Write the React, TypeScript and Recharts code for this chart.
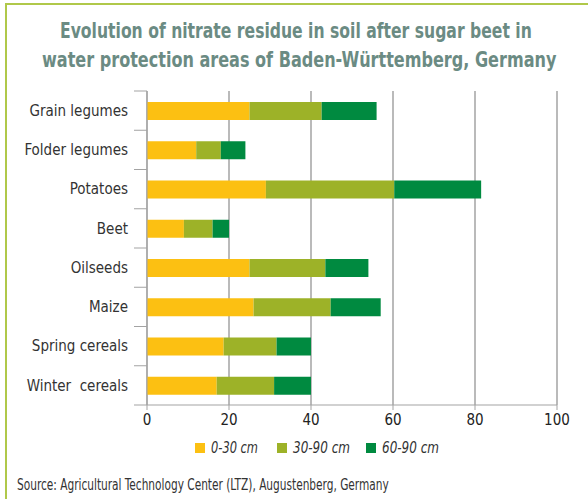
import React, { useLayoutEffect, useRef, useState } from 'react';
import { BarChart, Bar, XAxis, YAxis, CartesianGrid } from 'recharts';

const crops = [
  'Grain legumes',
  'Folder legumes',
  'Potatoes',
  'Beet',
  'Oilseeds',
  'Maize',
  'Spring cereals',
  'Winter  cereals',
];
const depth0to30 = [25, 12, 29, 9, 25, 26, 18.7, 17];
const depth30to90 = [17.6, 6, 31.3, 7, 18.5, 18.8, 12.9, 14];
const depth60to90 = [13.4, 6, 21.2, 4, 10.5, 12.2, 8.4, 9];
const xTicks = [0, 20, 40, 60, 80, 100];

const series = [
  { key: 'd1', name: '0-30 cm', color: '#fcc012' },
  { key: 'd2', name: '30-90 cm', color: '#9db228' },
  { key: 'd3', name: '60-90 cm', color: '#008a40' },
];

const data = crops.map((crop, i) => ({
  crop,
  d1: depth0to30[i],
  d2: depth30to90[i],
  d3: depth60to90[i],
}));

const FONT = "'Liberation Sans Narrow', 'DejaVu Sans Condensed', 'Roboto', sans-serif";
const GRID = '#a3a3a3';
const PLOT_TOP = 91;
const PLOT_BOTTOM = 405;
const BAND = (PLOT_BOTTOM - PLOT_TOP) / crops.length;

// squeezes a line of text horizontally to a given width (condensed font look)
function FitText({ x, y, width, children, ...rest }: any) {
  const ref = useRef<SVGTextElement>(null);
  const [sx, setSx] = useState(1);
  useLayoutEffect(() => {
    const w = ref.current ? ref.current.getComputedTextLength() : 0;
    if (w > 0) setSx(width / w);
  }, [width]);
  return (
    <text ref={ref} transform={`translate(${x},${y}) scale(${sx},1)`} fontFamily={FONT} {...rest}>
      {children}
    </text>
  );
}

const CropTick = (props: any) => {
  const { x, y, payload, index } = props;
  const axisX = x + 19;
  return (
    <g>
      <text
        x={x}
        y={y}
        dy="0.355em"
        textAnchor="end"
        fontSize={15}
        fill="#333"
        fontFamily={FONT}
        style={{ whiteSpace: 'pre' }}
      >
        {payload.value}
      </text>
      {index === 0 && (
        <line x1={axisX - 13} x2={axisX} y1={y - BAND / 2} y2={y - BAND / 2} stroke={GRID} />
      )}
      <line x1={axisX - 13} x2={axisX} y1={y + BAND / 2} y2={y + BAND / 2} stroke={GRID} />
    </g>
  );
};

export default function App() {
  return (
    <div style={{ position: 'absolute', left: 0, top: 0, width: 588, height: 499, background: '#fff', overflow: 'hidden' }}>
      <div style={{ position: 'absolute', left: 5, top: 3, width: 583, height: 2, background: '#b0c84a' }} />
      <div style={{ position: 'absolute', left: 5, top: 3, width: 2, height: 496, background: '#b0c84a' }} />
      <svg width={588} height={499} style={{ position: 'absolute', left: 0, top: 0 }}>
        <FitText x={60} y={38} width={472} fontSize={22} fontWeight="bold" fill="#6b8b83">
          Evolution of nitrate residue in soil after sugar beet in
        </FitText>
        <FitText x={42} y={67} width={515} fontSize={22} fontWeight="bold" fill="#6b8b83">
          water protection areas of Baden-Württemberg, Germany
        </FitText>
        {series.map((s, i) => {
          const lx = [195, 277, 366][i];
          return (
            <g key={s.key}>
              <rect x={lx} y={443} width={10} height={10} fill={s.color} />
              <FitText x={lx + 16} y={453} width={[47, 57, 57][i]} fontSize={16} fontStyle="italic" fill="#333">
                {s.name}
              </FitText>
            </g>
          );
        })}
        <FitText x={17} y={490} width={372} fontSize={16} fill="#333">
          Source: Agricultural Technology Center (LTZ), Augustenberg, Germany
        </FitText>
      </svg>
      <div style={{ position: 'absolute', left: 0, top: 0 }}>
        <BarChart
          width={588}
          height={430}
          data={data}
          layout="vertical"
          margin={{ top: PLOT_TOP, right: 31, left: 0, bottom: 0 }}
          barSize={18}
        >
          <CartesianGrid horizontal={false} stroke={GRID} strokeWidth={1.5} />
          <XAxis
            type="number"
            domain={[0, 100]}
            ticks={xTicks}
            height={25}
            tickSize={5}
            tickMargin={4}
            stroke={GRID}
            tick={{ fontSize: 15, fill: '#222', fontFamily: FONT }}
          />
          <YAxis
            type="category"
            dataKey="crop"
            width={147}
            tickSize={0}
            tickMargin={19}
            stroke={GRID}
            tick={<CropTick />}
            interval={0}
          />
          {series.map((s) => (
            <Bar key={s.key} dataKey={s.key} name={s.name} stackId="a" fill={s.color} isAnimationActive={false} />
          ))}
        </BarChart>
      </div>
    </div>
  );
}
